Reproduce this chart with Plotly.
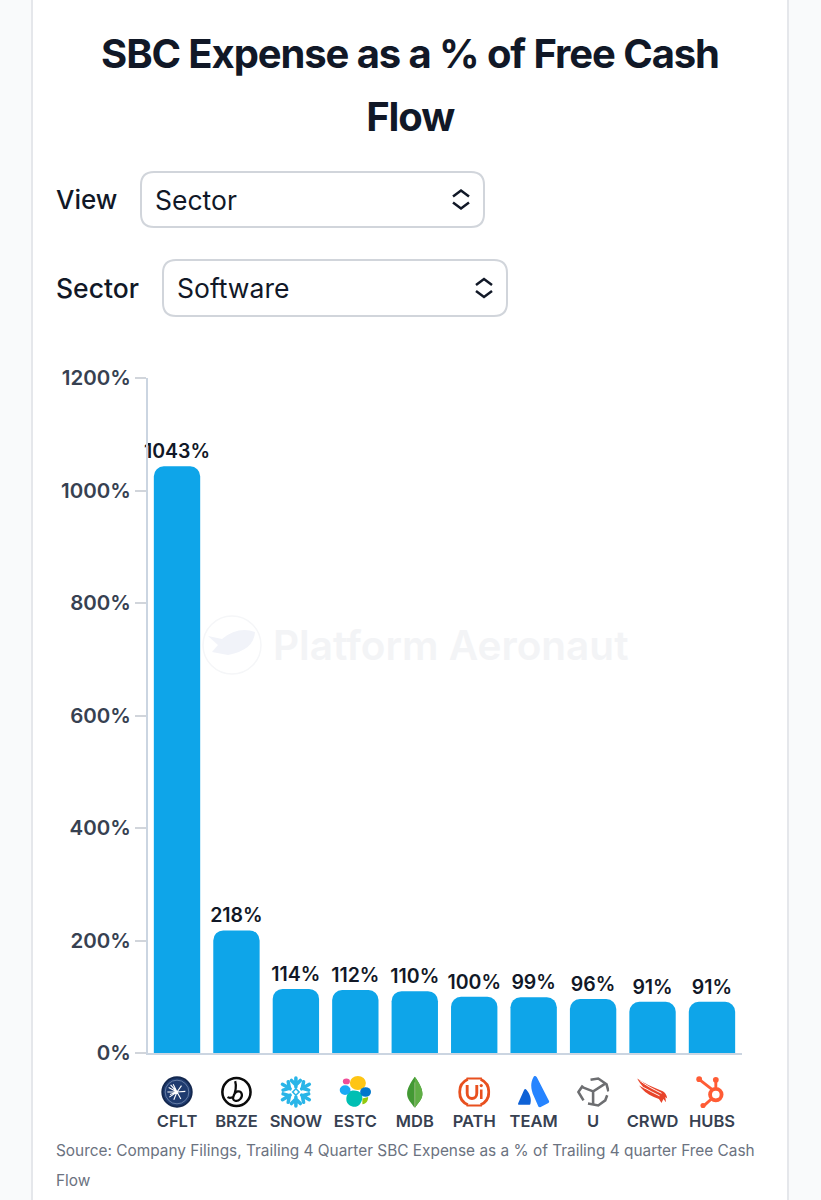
import base64

import plotly.graph_objects as go

TICKERS = ["CFLT", "BRZE", "SNOW", "ESTC", "MDB", "PATH", "TEAM", "U", "CRWD", "HUBS"]
SBC_PCT = [1043, 218, 114, 112, 110, 100, 99, 96, 91, 91]
Y_TICKS = [0, 200, 400, 600, 800, 1000, 1200]
Y_TICK_LABELS = ["0%", "200%", "400%", "600%", "800%", "1000%", "1200%"]

FONT = "Inter"
W, H = 821, 1200
PLOT_L, PLOT_R, PLOT_T, PLOT_B = 148, 742, 378, 1053

LOGOS = {
    "CFLT": '<circle cx="50" cy="50" r="46" fill="#1f3b6f" stroke="#14284f" stroke-width="6"/>'
            '<circle cx="50" cy="50" r="37" fill="none" stroke="#8fa3c4" stroke-width="2"/>'
            '<path d="M50 50L24 36M50 50L20 50M50 50L26 66M50 50L38 26M50 50L40 74M50 50L64 30M50 50L62 72M50 50L76 48M50 50L30 28M50 50L28 58" '
            'stroke="#fff" stroke-width="3.5" fill="none"/>',
    "BRZE": '<circle cx="50" cy="50" r="44" fill="#fff" stroke="#0b0b0b" stroke-width="8"/>'
            '<path d="M46 16C50 30 46 52 40 66C36 78 52 82 62 72C72 60 66 46 54 48C46 50 42 58 40 66M22 66C28 70 34 68 40 66" '
            'fill="none" stroke="#0b0b0b" stroke-width="7"/>',
    "SNOW": '<g stroke="#29b5e8" stroke-width="11" stroke-linecap="round" fill="none">'
            '<path d="M50 6V34M36 14L50 28L64 14M50 94V66M36 86L50 72L64 86"/>'
            '<path d="M8 26L32 40M10 44L30 38L26 18M92 74L68 60M90 56L70 62L74 82"/>'
            '<path d="M92 26L68 40M90 44L70 38L74 18M8 74L32 60M10 56L30 62L26 82"/></g>'
            '<path d="M50 40L60 50L50 60L40 50Z" fill="none" stroke="#29b5e8" stroke-width="5"/>',
    "ESTC": '<ellipse cx="58" cy="22" rx="25" ry="22" fill="#fec514"/>'
            '<path d="M30 50C38 42 62 44 70 56C76 70 68 92 52 96C38 98 24 90 22 76C21 66 24 56 30 50Z" fill="#00bfb3"/>'
            '<ellipse cx="18" cy="44" rx="17" ry="15" fill="#1ba9f5"/>'
            '<ellipse cx="82" cy="50" rx="17" ry="15" fill="#0077cc"/>'
            '<ellipse cx="22" cy="17" rx="11" ry="9" fill="#f04e98"/>'
            '<path d="M72 70L90 66C90 78 84 88 72 88Z" fill="#93c90e"/>',
    "MDB": '<path d="M50 2C36 22 26 38 26 56C26 74 42 86 48 98H52C58 86 74 74 74 56C74 38 64 22 50 2Z" fill="#439934"/>'
           '<path d="M50 2C64 22 74 38 74 56C74 74 58 86 52 98H50Z" fill="#5fae45"/>'
           '<path d="M50 20V98" stroke="#b8c4a0" stroke-width="2"/>',
    "PATH": '<path d="M30 10A44 44 0 0 0 30 90M70 10A44 44 0 0 1 70 90" fill="none" stroke="#e8501f" stroke-width="9"/>'
            '<path d="M26 8H74M26 92H74" stroke="#e8501f" stroke-width="6"/>'
            '<path d="M28 28V54C28 76 58 76 58 54V28" fill="none" stroke="#e8501f" stroke-width="9"/>'
            '<path d="M72 42V72" stroke="#e8501f" stroke-width="8"/><circle cx="72" cy="30" r="5" fill="#e8501f"/>',
    "TEAM": '<path d="M50 2C38 22 42 44 50 62L64 94C66 98 68 98 72 97L96 84C99 82 99 80 98 78L60 4C56 -1 52 -1 50 2Z" fill="#2684ff"/>'
            '<path d="M28 44C25 40 22 40 20 44L2 84C0 88 2 90 5 90H36C38 90 40 88 40 86C44 72 38 56 28 44Z" fill="#0f62d6"/>',
    "U": '<g fill="none" stroke="#6d6e71" stroke-width="8">'
         '<path d="M42 12L66 8L92 26L98 48M94 60L88 76L66 92L34 86M20 76L4 50L18 30"/>'
         '<path d="M88 24L50 48L50 88M50 48L14 34"/></g>',
    "CRWD": '<path d="M2 8C22 22 48 34 82 48C88 52 94 58 96 70L90 66L92 82L84 72L78 84L70 72L54 66C34 58 18 44 8 30L26 40C16 30 8 20 2 8Z" fill="#e8442a"/>'
            '<path d="M10 14C30 30 54 42 78 54M22 36C40 46 56 54 72 62" stroke="#fff" stroke-width="3" fill="none"/>',
    "HUBS": '<g fill="none" stroke="#ff5c35" stroke-linecap="round">'
            '<circle cx="62" cy="58" r="18" stroke-width="12"/>'
            '<path d="M62 34V18M50 42L14 14M48 72L26 92" stroke-width="9"/></g>'
            '<circle cx="62" cy="12" r="9" fill="#ff5c35"/><circle cx="10" cy="10" r="9" fill="#ff5c35"/>'
            '<circle cx="22" cy="92" r="8" fill="#ff5c35"/>',
}


def px_x(x):
    return (x - PLOT_L) / (PLOT_R - PLOT_L)


def px_y(y):
    return (PLOT_B - y) / (PLOT_B - PLOT_T)


def label(text, x, y, size, color="#111827", weight=400, anchor="left"):
    # annotations keep a small padding, so left aligned text gets pulled back
    return dict(text=text, x=px_x(x), y=px_y(y), xref="paper", yref="paper", showarrow=False,
                xanchor=anchor, yanchor="middle", xshift=-2 if anchor == "left" else 0,
                font=dict(family=FONT, size=size, color=color, weight=weight))


def round_box(x0, y0, x1, y1, r):
    return (f"M{px_x(x0 + r)} {px_y(y0)} L{px_x(x1 - r)} {px_y(y0)} Q{px_x(x1)} {px_y(y0)} {px_x(x1)} {px_y(y0 + r)} "
            f"L{px_x(x1)} {px_y(y1 - r)} Q{px_x(x1)} {px_y(y1)} {px_x(x1 - r)} {px_y(y1)} "
            f"L{px_x(x0 + r)} {px_y(y1)} Q{px_x(x0)} {px_y(y1)} {px_x(x0)} {px_y(y1 - r)} "
            f"L{px_x(x0)} {px_y(y0 + r)} Q{px_x(x0)} {px_y(y0)} {px_x(x0 + r)} {px_y(y0)} Z")


def select_box(x0, y0, x1, y1):
    cx, cy = x1 - 23, (y0 + y1) / 2
    chevrons = (f"M{px_x(cx - 8)} {px_y(cy - 3)} L{px_x(cx)} {px_y(cy - 9)} L{px_x(cx + 8)} {px_y(cy - 3)} "
                f"M{px_x(cx - 8)} {px_y(cy + 3)} L{px_x(cx)} {px_y(cy + 9)} L{px_x(cx + 8)} {px_y(cy + 3)}")
    return [
        dict(type="path", path=round_box(x0, y0, x1, y1, 13), xref="paper", yref="paper",
             fillcolor="#ffffff", line=dict(color="#d1d5db", width=2), layer="below"),
        dict(type="path", path=chevrons, xref="paper", yref="paper", line=dict(color="#111827", width=2.5)),
    ]


fig = go.Figure(go.Bar(
    x=TICKERS, y=SBC_PCT,
    marker=dict(color="#0ea5e9", line=dict(width=0)),
    text=[f"{v}%" for v in SBC_PCT], textposition="outside", cliponaxis=False,
    constraintext="none", textangle=0,
    textfont=dict(family=FONT, size=19.5, color="#111827", weight=600),
))

shapes = [
    # page background and card
    dict(type="rect", x0=px_x(32), x1=px_x(788), y0=px_y(-20), y1=px_y(1220), xref="paper", yref="paper",
         fillcolor="#ffffff", line=dict(color="#e5e7eb", width=2), layer="below"),
    # watermark
    dict(type="circle", x0=px_x(203), x1=px_x(261), y0=px_y(616), y1=px_y(674), xref="paper", yref="paper",
         line=dict(color="#f5f6f8", width=1.5), layer="below"),
    dict(type="path", path=f"M{px_x(208)} {px_y(636)} L{px_x(222)} {px_y(639)} Q{px_x(238)} {px_y(626)} {px_x(255)} {px_y(632)} "
                           f"Q{px_x(254)} {px_y(650)} {px_x(228)} {px_y(655)} L{px_x(212)} {px_y(652)} L{px_x(218)} {px_y(645)} Z",
         xref="paper", yref="paper", fillcolor="#f1f3f9", line=dict(width=0), layer="below"),
]
shapes += select_box(141, 172, 484, 227)
shapes += select_box(163, 260, 507, 316)

annotations = [
    label("SBC Expense as a % of Free Cash", 410, 53, 40, weight=700, anchor="center"),
    label("Flow", 410, 116, 40, weight=700, anchor="center"),
    label("View", 56, 200, 26, weight=500),
    label("Sector", 155, 200, 26.5),
    label("Sector", 56, 288, 26.5, weight=500),
    label("Software", 177, 288, 26.5),
    label("Platform Aeronaut", 273, 645, 40.5, color="#f3f4f6", weight=600),
    label("Source: Company Filings, Trailing 4 Quarter SBC Expense as a % of Trailing 4 quarter Free Cash",
          56, 1150, 15.4, color="#6b7280"),
    label("Flow", 56, 1180, 15.4, color="#6b7280"),
]

images = []
for i, ticker in enumerate(TICKERS):
    svg = f'<svg xmlns="http://www.w3.org/2000/svg" viewBox="0 0 100 100">{LOGOS[ticker]}</svg>'
    src = "data:image/svg+xml;base64," + base64.b64encode(svg.encode()).decode()
    images.append(dict(source=src, xref="x", yref="paper", x=i, y=px_y(1092),
                       sizex=0.54, sizey=32 / (PLOT_B - PLOT_T),
                       xanchor="center", yanchor="middle", layer="above"))

fig.update_layout(
    width=W, height=H, autosize=False,
    margin=dict(l=PLOT_L, r=W - PLOT_R, t=PLOT_T, b=H - PLOT_B, pad=0),
    paper_bgcolor="#f9fafb", plot_bgcolor="rgba(0,0,0,0)",
    bargap=0.22, barcornerradius=10, showlegend=False,
    shapes=shapes, annotations=annotations, images=images,
    font=dict(family=FONT),
)
fig.update_xaxes(
    type="category", range=[-0.488, 9.505], showgrid=False, showline=True, linecolor="#cbd5e1", linewidth=2, ticks="",
    ticklabelstandoff=52, tickfont=dict(family=FONT, size=16.5, color="#374151", weight=600),
)
fig.update_yaxes(
    range=[0, 1200], tickvals=Y_TICKS, ticktext=Y_TICK_LABELS, showgrid=False, zeroline=False,
    showline=True, linecolor="#cbd5e1", linewidth=2, ticks="outside", ticklen=11, tickcolor="#d1d5db",
    tickwidth=2, tickfont=dict(family=FONT, size=20.5, color="#374151", weight=600),
)

# tighter tracking on the two title lines, the browser page margin goes too
post = """
document.body.style.margin = '0';
document.head.insertAdjacentHTML('beforeend',
  '<style>.annotation[data-index="0"] text, .annotation[data-index="1"] text {letter-spacing: -1.1px;}</style>');
"""
fig.write_html("out.html", post_script=post, config={"displayModeBar": False})
